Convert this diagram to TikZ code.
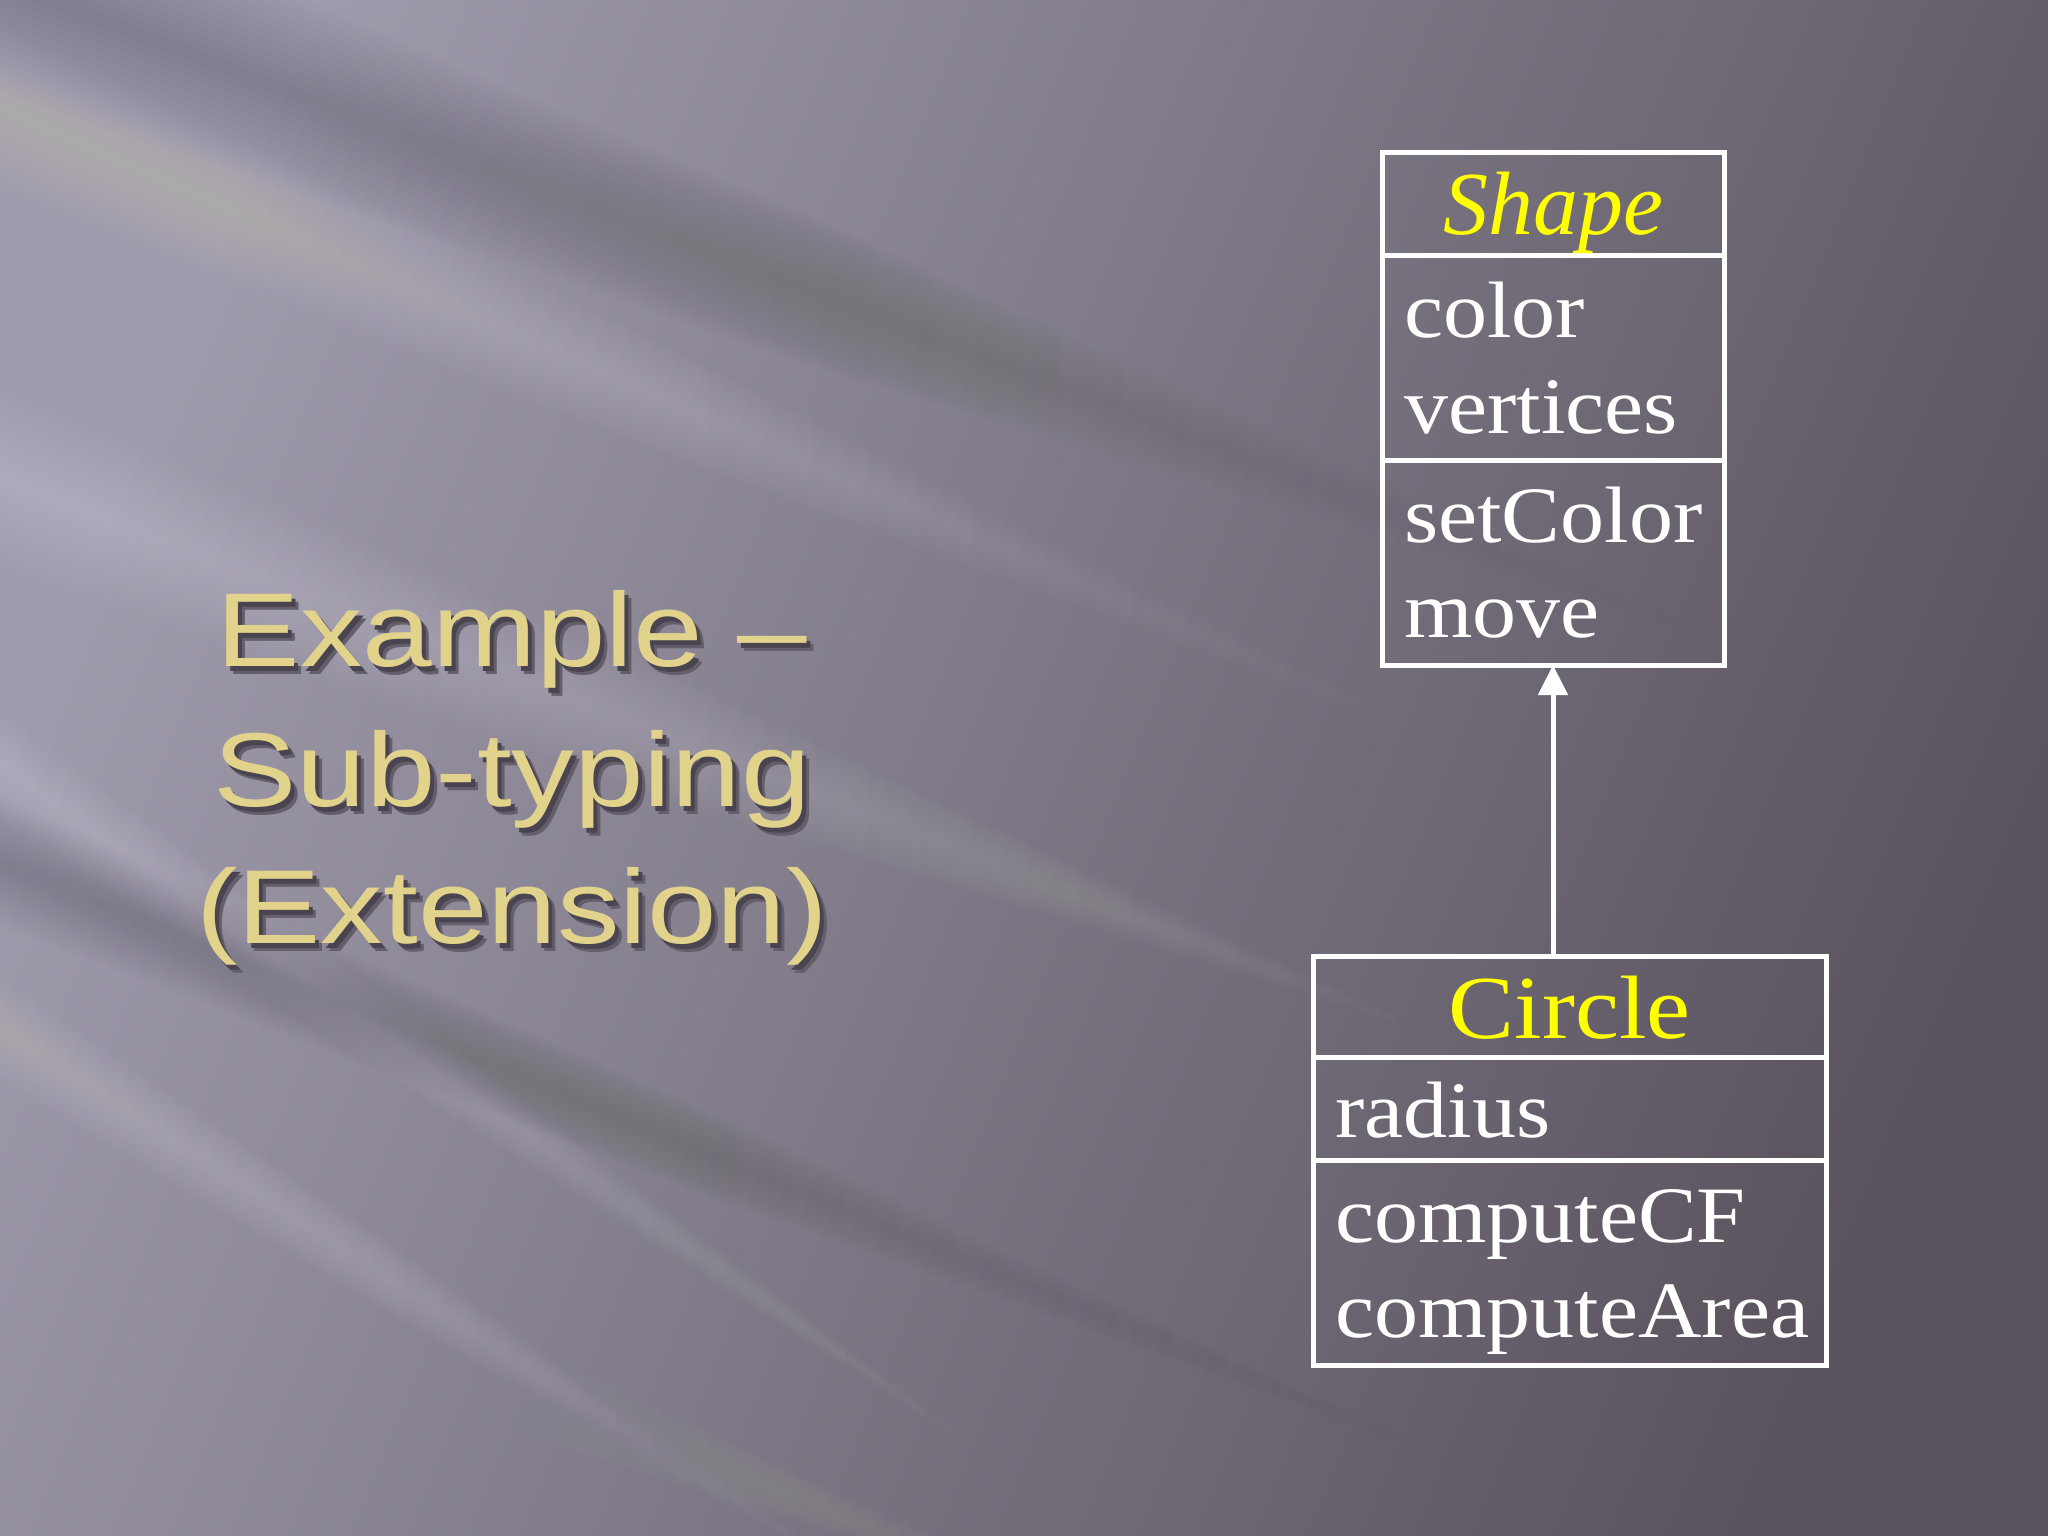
\documentclass[tikz,border=0pt]{standalone}
\usepackage{fontspec}
\setmainfont[FakeStretch=1.1]{Liberation Serif}
\newfontfamily\hdritfont{Liberation Serif}
\newfontfamily\titlefont[FakeStretch=1.19]{Liberation Sans}
\usetikzlibrary{arrows.meta,calc}
\definecolor{bgA}{RGB}{160,155,172}
\definecolor{bgB}{RGB}{90,83,94}
\definecolor{titlecol}{RGB}{226,211,140}
\definecolor{shadowA}{RGB}{100,94,106}
\definecolor{shadowB}{RGB}{74,68,80}
\definecolor{hdrcol}{RGB}{255,255,0}
% soft band: #1 x1, #2 y1, #3 x2, #4 y2, #5 half width, #6 layer opacity, #7 colour
\newcommand\softband[7]{%
  \foreach \k in {1,...,14}{%
    \fill[#7, opacity=#6]
      (#1,{#2-#5*\k/14})
      -- ({#1+(#3-#1)*(1-0.45*\k/14)},{#2+(#4-#2)*(1-0.45*\k/14)-0.6*#5*\k/14})
      -- ({#1+(#3-#1)*(1-0.45*\k/14)},{#2+(#4-#2)*(1-0.45*\k/14)+0.6*#5*\k/14})
      -- (#1,{#2+#5*\k/14}) -- cycle;
  }}
\newcommand\shadowedtext[1]{%
  \makebox[0pt][l]{\hspace{7pt}\raisebox{-8pt}{\textcolor{shadowA}{#1}}}%
  \makebox[0pt][l]{\hspace{4pt}\raisebox{-5pt}{\textcolor{shadowB}{#1}}}#1}
\tikzset{
  comp/.style={draw=white, line width=5pt, inner sep=0pt, outer sep=0pt},
  body/.style={text=white, inner sep=0pt, anchor=base west, font=\fontsize{80}{96}\selectfont},
  hdr/.style={text=hdrcol, inner sep=0pt, anchor=base, font=\fontsize{90}{108}\selectfont},
  ttl/.style={text=titlecol, inner sep=0pt, anchor=base, font=\titlefont\fontsize{105}{126}\selectfont},
  inh/.style={draw=white, line width=5pt, -{Triangle[length=30pt,width=29pt]}}
}
\begin{document}
\begin{tikzpicture}[x=1pt,y=-1pt]
\useasboundingbox (0,0) rectangle (2048,1536);
% background
\shade[left color=bgA, right color=bgB, shading angle=68] (0,0) rectangle (2048,1536);
\softband{-200}{-95}{1750}{650}{120}{0.007}{black}
\softband{-200}{20}{1450}{745}{90}{0.013}{white}
\softband{-200}{400}{1450}{1040}{100}{0.014}{white}
\softband{-200}{625}{1000}{1465}{60}{0.014}{white}
\softband{-200}{901}{900}{1605}{60}{0.013}{white}
\softband{-200}{1109}{1200}{1655}{70}{0.009}{white}
\softband{-200}{780}{1500}{1480}{70}{0.006}{black}
% title
\node[ttl] (t1) at (512,666) {\shadowedtext{Example –}};
\node[ttl] (t2) at (512,806) {\shadowedtext{Sub-typing}};
\node[ttl] (t3) at (512,943) {\shadowedtext{(Extension)}};
% Shape class
\node[comp, minimum width=342pt, minimum height=102pt] (shapeH) at (1553,204) {};
\node[comp, minimum width=342pt, minimum height=205pt] (shapeA) at (1553,357.5) {};
\node[comp, minimum width=342pt, minimum height=205pt] (shapeM) at (1553,562.5) {};
\node[hdr, font=\hdritfont\itshape\fontsize{90}{108}\selectfont] (shapeT) at (1553,234) {Shape};
\node[body] (a1) at (1404,337) {color};
\node[body] (a2) at (1404,433) {vertices};
\node[body] (m1) at (1404,542) {setColor};
\node[body] (m2) at (1404,637) {move};
% Circle class
\node[comp, minimum width=513pt, minimum height=101pt] (circH) at (1569.5,1006.5) {};
\node[comp, minimum width=513pt, minimum height=103pt] (circA) at (1569.5,1108.5) {};
\node[comp, minimum width=513pt, minimum height=205pt] (circM) at (1569.5,1262.5) {};
\node[hdr] (circT) at (1569.5,1038) {Circle};
\node[body] (c1) at (1335,1137) {radius};
\node[body] (c2) at (1335,1242) {computeCF};
\node[body] (c3) at (1335,1337) {computeArea};
% generalization
\draw[inh] (shapeM.south |- circH.north) -- (shapeM.south);
\end{tikzpicture}
\end{document}
